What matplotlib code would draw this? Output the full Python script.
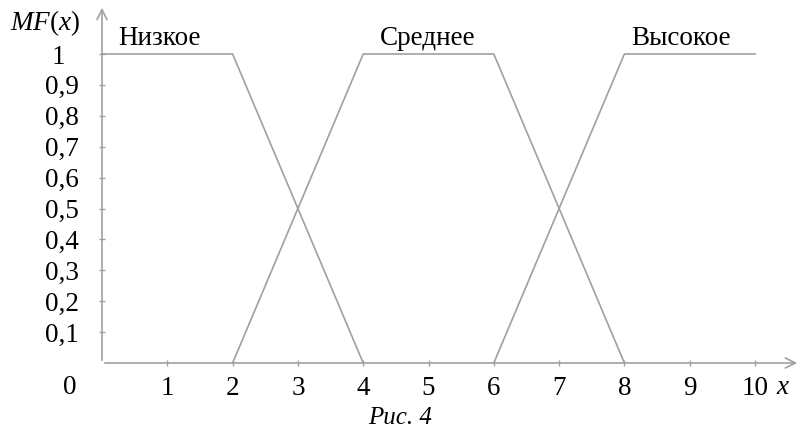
import matplotlib.pyplot as plt

plt.rcParams["font.family"] = ["Liberation Serif", "DejaVu Serif"]
plt.rcParams["mathtext.fontset"] = "custom"
plt.rcParams["mathtext.rm"] = "Liberation Serif"
plt.rcParams["mathtext.it"] = "Liberation Serif:italic"

# трапециевидные функции принадлежности
low_x = [0, 2, 4]
low_y = [1, 1, 0]
mid_x = [2, 4, 6, 8]
mid_y = [0, 1, 1, 0]
high_x = [6, 8, 10]
high_y = [0, 1, 1]
names = ["Низкое", "Среднее", "Высокое"]
name_x = [0.25, 4.25, 8.1]

x_ticks = list(range(1, 11))
y_ticks = [0.1, 0.2, 0.3, 0.4, 0.5, 0.6, 0.7, 0.8, 0.9, 1.0]
y_labels = ["0,1", "0,2", "0,3", "0,4", "0,5", "0,6", "0,7", "0,8", "0,9", "1  "]

gray = "#a0a0a0"
fs = 19.5
W, H = 802, 434
fig = plt.figure(figsize=(W / 100, H / 100), dpi=100)
# ось x: 0 -> 102 px, 10 -> 755 px; ось y: 0 -> 363 px, 1 -> 54 px
ax = fig.add_axes([102 / W, (H - 363) / H, 698 / W, 358 / H])
xmax = 698 / 65.3
ymax = 358 / 309
ax.set_xlim(0, xmax)
ax.set_ylim(0, ymax)

for xs, ys in [(low_x, low_y), (mid_x, mid_y), (high_x, high_y)]:
    ax.plot(xs, ys, color=gray, lw=1.2, clip_on=False)

for n, nx in zip(names, name_x):
    ax.text(nx, 1.01, n, fontsize=fs, ha="left", va="bottom")

for s in ax.spines.values():
    s.set_visible(False)

# оси со стрелками
ax.annotate("", xy=(xmax, 0), xytext=(0, 0),
            arrowprops=dict(arrowstyle="->", color=gray, lw=1.2, mutation_scale=18),
            annotation_clip=False)
ax.annotate("", xy=(0, ymax), xytext=(0, 0),
            arrowprops=dict(arrowstyle="->", color=gray, lw=1.2, mutation_scale=18),
            annotation_clip=False)

ax.set_xticks(x_ticks)
ax.set_xticklabels([str(v) for v in x_ticks])
ax.set_yticks(y_ticks)
ax.set_yticklabels(y_labels)
ax.tick_params(axis="both", direction="inout", length=5, width=1, color=gray,
               labelsize=fs)
ax.tick_params(axis="x", pad=7)
ax.tick_params(axis="y", pad=14)

ax.text(-32 / 65.3, -25 / 309, "0", fontsize=fs, ha="center", va="center")
ax.text(xmax - 17 / 65.3, -25 / 309, "$x$", fontsize=fs, ha="center", va="center")
ax.text(-22 / 65.3, 1.1, r"$MF(x)$", fontsize=fs, ha="right", va="center")
fig.text(400 / W, 1 - 418 / H, "Рис. 4", fontsize=18, style="italic",
         ha="center", va="center")

fig.savefig("out.png", dpi=100)
